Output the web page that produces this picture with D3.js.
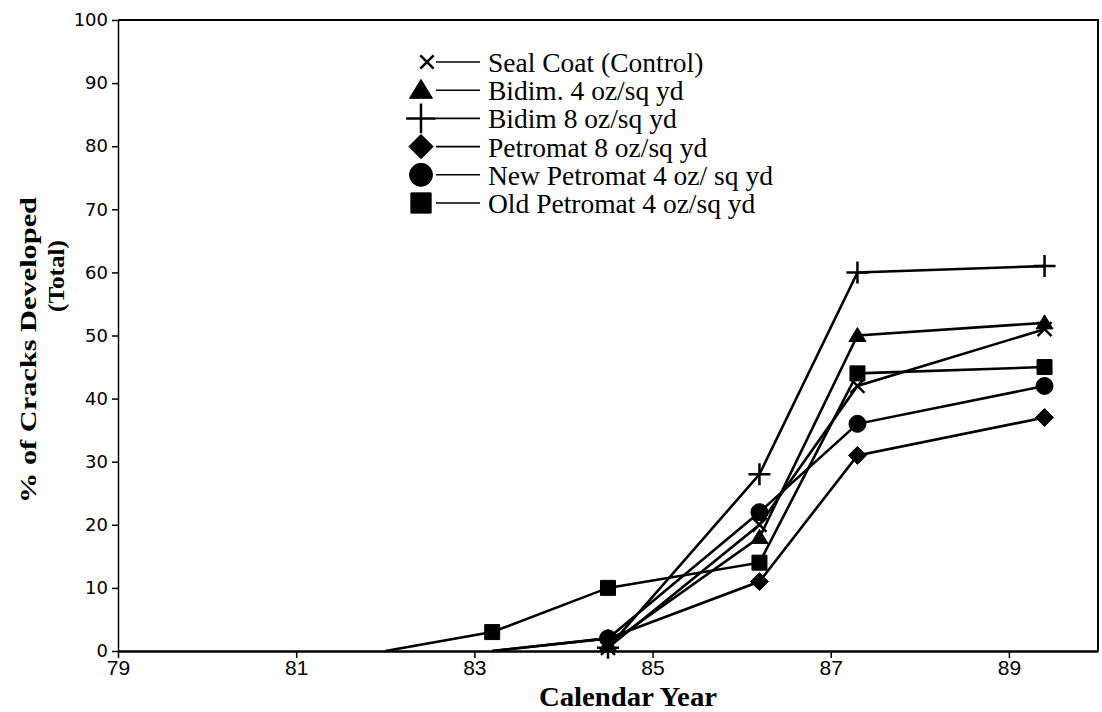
<!DOCTYPE html>
<html>
<head>
<meta charset="utf-8">
<script src="https://cdn.jsdelivr.net/npm/d3@7"></script>
<style>
  body { margin: 0; background: #fff; }
</style>
</head>
<body>
<div id="chart"></div>
<script>
// survey years (19xx) and % of cracks developed per treatment
const years = [82, 83.2, 84.5, 86.2, 87.3, 89.4];
const seriesNames = [
  "Seal Coat (Control)",
  "Bidim. 4 oz/sq yd",
  "Bidim 8 oz/sq yd",
  "Petromat 8 oz/sq yd",
  "New Petromat 4 oz/ sq yd",
  "Old Petromat 4 oz/sq yd"
];
const sealCoat   = [null, null, 0.5, 20, 42, 51];
const bidim4     = [null, null, 1, 18, 50, 52];
const bidim8     = [null, null, 0.5, 28, 60, 61];
const petromat8  = [null, 0, 2, 11, 31, 37];
const newPetro4  = [null, 0, 2, 22, 36, 42];
const oldPetro4  = [0, 3, 10, 14, 44, 45];
const xTicks = [79, 81, 83, 85, 87, 89];
const yTicks = [0, 10, 20, 30, 40, 50, 60, 70, 80, 90, 100];

const seriesValues = [sealCoat, bidim4, bidim8, petromat8, newPetro4, oldPetro4];
const markerKinds = ["x", "triangle", "plus", "diamond", "circle", "square"];

const width = 1102, height = 712;
const svg = d3.select("#chart").append("svg")
  .attr("width", width)
  .attr("height", height);

const x = d3.scaleLinear().domain([79, 90]).range([118, 1098]);
const y = d3.scaleLinear().domain([0, 100]).range([651, 20]);

// marker path for a kind at a given scale
function markerPath(kind, s) {
  if (kind === "plus") return `M${-11 * s},0H${11 * s}M0,${-11 * s}V${11 * s}`;
  if (kind === "x") return `M${-7 * s},${-7 * s}L${7 * s},${7 * s}M${-7 * s},${7 * s}L${7 * s},${-7 * s}`;
  if (kind === "triangle") return `M0,${-8 * s}L${8.5 * s},${6 * s}L${-8.5 * s},${6 * s}Z`;
  if (kind === "diamond") return `M0,${-9 * s}L${9 * s},0L0,${9 * s}L${-9 * s},0Z`;
  if (kind === "square") return `M${-7.5 * s},${-7.5 * s}H${7.5 * s}V${7.5 * s}H${-7.5 * s}Z`;
  return d3.symbol().type(d3.symbolCircle).size(Math.PI * 8.5 * 8.5 * s * s)();
}
function styleMarker(sel, kind, sw) {
  const open = kind === "plus" || kind === "x";
  sel.attr("fill", open ? "none" : "#000")
    .attr("stroke", "#000")
    .attr("stroke-width", open ? sw : 1);
}

// axes
const yAxis = svg.append("g")
  .attr("transform", `translate(${x(79)},0)`)
  .call(d3.axisLeft(y).tickValues(yTicks).tickSize(6).tickSizeOuter(0).tickPadding(4));
yAxis.select(".domain").attr("stroke-width", 1.5);
yAxis.selectAll(".tick line").attr("stroke-width", 1.5);
yAxis.selectAll(".tick text")
  .attr("font-family", "DejaVu Sans, sans-serif")
  .attr("font-size", 18)
  .attr("fill", "#000");

const xAxis = svg.append("g")
  .attr("transform", `translate(0,${y(0)})`)
  .call(d3.axisBottom(x).tickValues(xTicks).tickSize(7).tickSizeOuter(0).tickPadding(2));
xAxis.select(".domain").attr("stroke-width", 2.5);
xAxis.selectAll(".tick line").attr("stroke-width", 1.5);
xAxis.selectAll(".tick text")
  .attr("font-family", "Liberation Sans, Arial, sans-serif")
  .attr("font-size", 21)
  .attr("fill", "#000");

// top and right frame
svg.append("path")
  .attr("d", `M${x(79)},${y(100)}H${x(90)}V${y(0)}`)
  .attr("fill", "none")
  .attr("stroke", "#000")
  .attr("stroke-width", 2);

// lines
const line = d3.line()
  .defined(d => d.v !== null)
  .x(d => x(d.year))
  .y(d => y(d.v));

const series = seriesValues.map((vals, i) => ({
  name: seriesNames[i],
  kind: markerKinds[i],
  points: years.map((yr, j) => ({ year: yr, v: vals[j] }))
}));

svg.append("g").selectAll("path")
  .data(series)
  .join("path")
  .attr("d", d => line(d.points))
  .attr("fill", "none")
  .attr("stroke", "#000")
  .attr("stroke-width", 2.6);

// markers (points lying on the axis were not marked)
const drawOrder = [0, 1, 2, 4, 5, 3];
drawOrder.forEach(i => {
  const s = series[i];
  svg.append("g").selectAll("path")
    .data(s.points.filter(p => p.v !== null && p.v > 0))
    .join("path")
    .attr("transform", p => `translate(${x(p.year)},${y(p.v)})`)
    .attr("d", markerPath(s.kind, 1))
    .call(sel => styleMarker(sel, s.kind, 2.5));
});

// legend
const legend = svg.append("g");
series.forEach((s, i) => {
  const ry = 62 + i * 28.2;
  legend.append("path")
    .attr("transform", `translate(${s.kind === "x" ? 427 : 421},${ry})`)
    .attr("d", markerPath(s.kind, s.kind === "x" ? 0.95 : 1.35))
    .call(sel => styleMarker(sel, s.kind, 2.5));
  legend.append("line")
    .attr("x1", 436).attr("x2", 480)
    .attr("y1", ry).attr("y2", ry)
    .attr("stroke", "#000")
    .attr("stroke-width", 1.6);
  legend.append("text")
    .attr("x", 488)
    .attr("y", ry + 10)
    .attr("font-family", "Liberation Serif, Times New Roman, serif")
    .attr("font-size", 27.5)
    .text(s.name);
});

// axis titles
svg.append("text")
  .attr("x", 628)
  .attr("y", 706)
  .attr("text-anchor", "middle")
  .attr("font-family", "Liberation Serif, Times New Roman, serif")
  .attr("font-weight", "bold")
  .attr("font-size", 27)
  .attr("textLength", 178)
  .attr("lengthAdjust", "spacingAndGlyphs")
  .text("Calendar  Year");

svg.append("text")
  .attr("transform", "translate(36,350) rotate(-90)")
  .attr("text-anchor", "middle")
  .attr("font-family", "Liberation Serif, Times New Roman, serif")
  .attr("font-weight", "bold")
  .attr("font-size", 24)
  .attr("textLength", 306)
  .attr("lengthAdjust", "spacingAndGlyphs")
  .text("% of Cracks Developed");

svg.append("text")
  .attr("transform", "translate(64,276) rotate(-90)")
  .attr("text-anchor", "middle")
  .attr("font-family", "Liberation Serif, Times New Roman, serif")
  .attr("font-weight", "bold")
  .attr("font-size", 24)
  .attr("textLength", 72)
  .attr("lengthAdjust", "spacingAndGlyphs")
  .text("(Total)");
</script>
</body>
</html>
